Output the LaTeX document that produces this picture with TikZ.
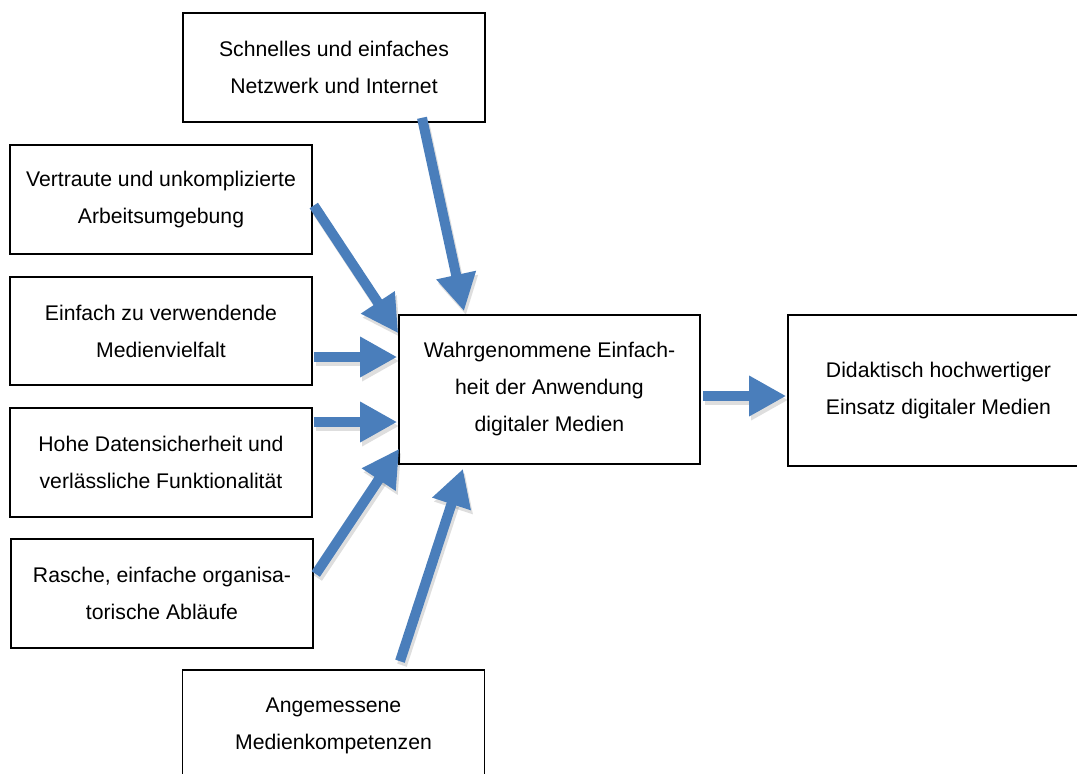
\documentclass[tikz,border=0pt]{standalone}
\usepackage{fontspec}
\setmainfont{Liberation Sans}
\usetikzlibrary{arrows.meta}
\definecolor{arrowblue}{HTML}{4A7EBB}
\begin{document}
\begin{tikzpicture}[x=1pt,y=-1pt,
  box/.style={draw=black, line width=1.6pt, fill=white, inner sep=0pt, align=center,
    minimum width=302pt, minimum height=109pt, font=\fontsize{21.2}{37}\selectfont},
  flow/.style={draw=arrowblue, fill=arrowblue, line width=10pt, -{Triangle[length=37pt,width=38pt]}},
  flowshadow/.style={draw=black, fill=black, opacity=0.13, line width=10pt,
    -{Triangle[length=37pt,width=38pt]}, transform canvas={shift={(2pt,-4pt)}}},
]
\useasboundingbox (0,0) rectangle (1077,774);
\clip (0,0) rectangle (1077,774);

\node[box] (top) at (334,67.5) {Schnelles und einfaches\\Netzwerk und Internet};
\node[box] (b1) at (161,199.5) {Vertraute und unkomplizierte\\Arbeitsumgebung};
\node[box, minimum height=108pt] (b2) at (161,331) {Einfach zu verwendende\\Medienvielfalt};
\node[box] (b3) at (161,462.5) {Hohe Datensicherheit und\\verlässliche Funktionalität};
\node[box] (b4) at (162,593.5) {Rasche, einfache organisa-\\torische Abläufe};
\node[box, minimum height=108pt, text depth=0pt] (bot) at (333.5,724) {Angemessene\\Medienkompetenzen};
\node[box, minimum width=301pt, minimum height=149pt] (c) at (549.5,389.5) {Wahrgenommene Einfach-\\heit der Anwendung\\digitaler Medien};
\node[box, minimum width=301pt, minimum height=151pt] (r) at (938.5,390.5) {Didaktisch hochwertiger\\Einsatz digitaler Medien};

\foreach \s in {flowshadow,flow}{
  \draw[\s] ([xshift=88pt,yshift=5pt]top.south) -- ([xshift=-85.5pt,yshift=3pt]c.north);
  \draw[\s] ([xshift=1pt,yshift=-6pt]b1.east) -- ([yshift=-19pt]c.north west);
  \draw[\s] ([xshift=1pt,yshift=-26pt]b2.east) -- ([xshift=-1pt,yshift=32.5pt]c.west);
  \draw[\s] ([xshift=1pt,yshift=40.5pt]b3.east) -- ([xshift=-1pt,yshift=-32.5pt]c.west);
  \draw[\s] ([xshift=2pt,yshift=19.5pt]b4.east) -- ([xshift=1pt,yshift=16pt]c.south west);
  \draw[\s] ([xshift=66.5pt,yshift=8pt]bot.north) -- ([xshift=-86.5pt,yshift=-4pt]c.south);
  \draw[\s] ([xshift=2pt,yshift=-6.5pt]c.east) -- ([xshift=-1pt,yshift=-5.5pt]r.west);
}
\end{tikzpicture}
\end{document}
